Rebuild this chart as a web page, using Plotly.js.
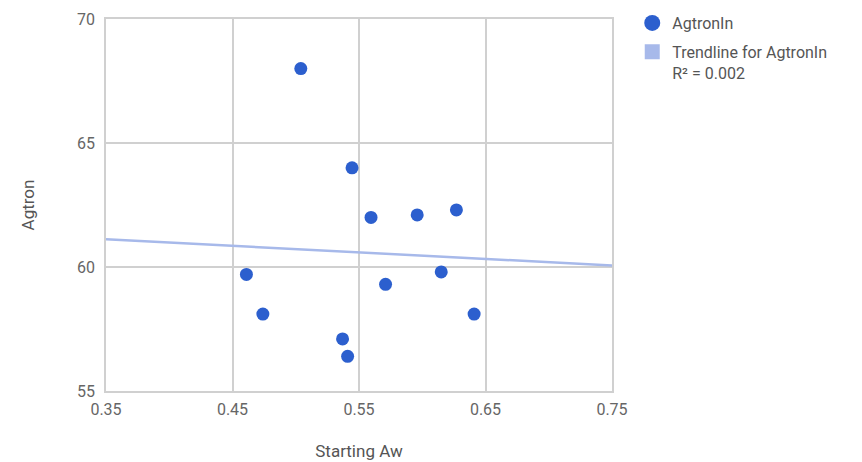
<!DOCTYPE html>
<html>
<head>
<meta charset="utf-8">
<script src="https://cdn.plot.ly/plotly-3.0.1.min.js"></script>
<style>html,body{margin:0;padding:0;background:#fff;}#chart{width:862px;height:462px;}</style>
</head>
<body>
<div id="chart"></div>
<script>
const startingAw = [0.504, 0.5445, 0.5595, 0.596, 0.627, 0.461, 0.615, 0.571, 0.474, 0.641, 0.537, 0.541];
const agtronIn   = [68.0, 64.0, 62.0, 62.1, 62.3, 59.7, 59.8, 59.3, 58.1, 58.1, 57.1, 56.4];
const xTicks = [0.35, 0.45, 0.55, 0.65, 0.75];
const yTicks = [55, 60, 65, 70];
const seriesName = 'AgtronIn';
const trendName = 'Trendline for AgtronIn<br>R² = 0.002';

// least-squares trendline
const n = startingAw.length;
const mx = startingAw.reduce((a,b)=>a+b,0)/n;
const my = agtronIn.reduce((a,b)=>a+b,0)/n;
let sxy=0, sxx=0;
for (let i=0;i<n;i++){ sxy+=(startingAw[i]-mx)*(agtronIn[i]-my); sxx+=(startingAw[i]-mx)**2; }
const slope = sxy/sxx, icpt = my - slope*mx;
const trendX = [xTicks[0], xTicks[xTicks.length-1]];
const trendY = trendX.map(x => icpt + slope*x);

const dotColor = '#2c5fce';
const trendColor = '#a7b9ea';
const data = [
  {x: trendX, y: trendY, type: 'scatter', mode: 'lines', name: trendName,
   showlegend: false, line: {color: trendColor, width: 2.5}, hoverinfo: 'skip'},
  {x: startingAw, y: agtronIn, type: 'scatter', mode: 'markers', name: seriesName,
   showlegend: false, marker: {color: dotColor, size: 13}},
  // legend swatches (circle and square like the original)
  {x: [null], y: [null], type: 'scatter', mode: 'markers', name: seriesName,
   legendgroup: 'a', marker: {color: dotColor, size: 16, symbol: 'circle'}, hoverinfo: 'skip'},
  {x: [null], y: [null], type: 'scatter', mode: 'markers', name: trendName,
   legendgroup: 'b', marker: {color: trendColor, size: 15, symbol: 'square'}, hoverinfo: 'skip'}
];
const layout = {
  width: 862, height: 462,
  margin: {l: 106, r: 250, t: 19, b: 71, autoexpand: false},
  paper_bgcolor: '#fff', plot_bgcolor: '#fff',
  font: {family: 'Roboto, Arial, sans-serif', size: 16, color: '#555'},
  showlegend: true,
  legend: {x: 1.04, xanchor: 'left', y: 1.035, yanchor: 'top', font: {size: 16, color: '#555'},
           itemwidth: 30, tracegroupgap: 5, traceorder: 'grouped', valign: 'top'},
  xaxis: {range: [0.35, 0.75], tickvals: xTicks, ticktext: xTicks.map(v=>v.toFixed(2)),
          showgrid: true, gridcolor: '#d0d0d0', gridwidth: 1.5, zeroline: false,
          showline: true, linecolor: '#d0d0d0', linewidth: 1.5, mirror: true,
          ticks: '', ticklabelstandoff: 3, tickfont: {size: 16, color: '#666'},
          title: {text: 'Starting Aw', font: {size: 17, color: '#555'}, standoff: 27}},
  yaxis: {range: [55, 70], tickvals: yTicks,
          showgrid: true, gridcolor: '#d0d0d0', gridwidth: 1.5, zeroline: false,
          showline: true, linecolor: '#d0d0d0', linewidth: 1.5, mirror: true,
          ticks: '', ticklabelstandoff: 6, tickfont: {size: 16, color: '#666'},
          title: {text: 'Agtron', font: {size: 17, color: '#555'}, standoff: 38}}
};
Plotly.newPlot('chart', data, layout, {displayModeBar: false});
</script>
</body>
</html>
